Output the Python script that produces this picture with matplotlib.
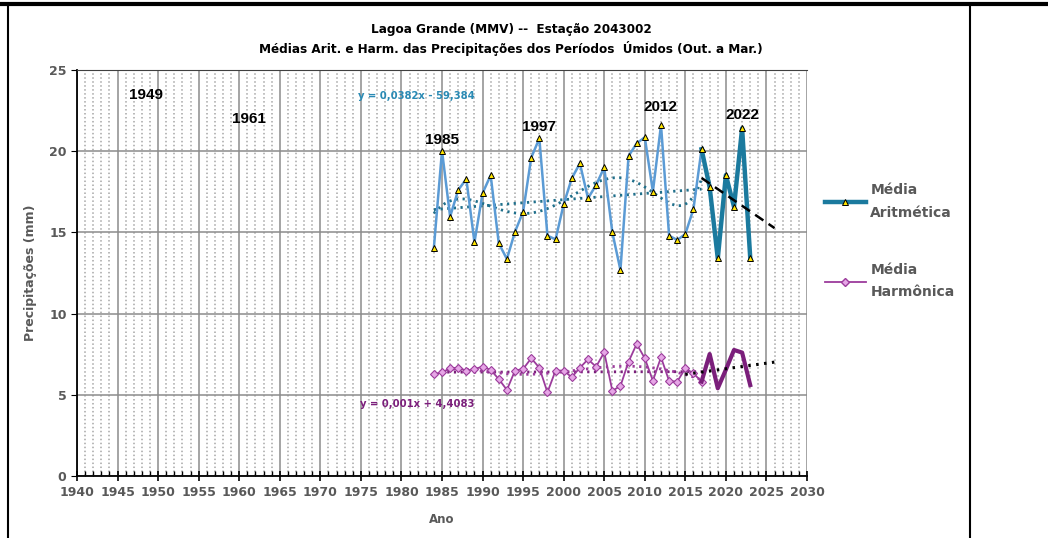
import matplotlib
matplotlib.use("Agg")
import matplotlib.pyplot as plt
import matplotlib.font_manager as fm
import numpy as np
from matplotlib.lines import Line2D
from matplotlib.ticker import MultipleLocator

# anos do período úmido
anos = list(range(1984, 2024))

# média aritmética (mm)
media_arit = [14.06, 20.03, 15.97, 17.61, 18.29, 14.39, 17.41, 18.52, 14.33, 13.36,
              15.04, 16.27, 19.60, 20.79, 14.80, 14.57, 16.73, 18.33, 19.25, 17.10,
              17.92, 19.00, 15.00, 12.68, 19.70, 20.48, 20.86, 17.51, 21.61, 14.80,
              14.53, 14.90, 16.44, 20.12, 17.78, 13.40, 18.53, 16.58, 21.41, 13.44]

# média harmônica (mm)
media_harm = [6.28, 6.38, 6.63, 6.67, 6.49, 6.59, 6.73, 6.53, 5.97, 5.30,
              6.49, 6.59, 7.25, 6.67, 5.15, 6.49, 6.49, 6.08, 6.67, 7.18,
              6.73, 7.62, 5.25, 5.54, 7.04, 8.13, 7.25, 5.87, 7.31, 5.85,
              5.81, 6.63, 6.32, 5.81, 7.51, 5.40, 6.55, 7.76, 7.60, 5.60]

# anos em destaque
destaques = [1949, 1961, 1985, 1997, 2012, 2022]

# equações das tendências lineares (1984-2017)
eq_arit = (0.0382, -59.384)
eq_harm = (0.001, 4.4083)

cinza = "#595959"
azul_claro = "#5B9BD5"
azul_esc = "#1B7A9E"
roxo_claro = "#9C3C9C"
roxo_esc = "#7B1F7B"

# fonte estreita para títulos e equações, se houver
nomes = {(f.name, f.stretch) for f in fm.fontManager.ttflist}
if any(n == "Liberation Sans Narrow" for n, s in nomes):
    fn = {"family": ["Liberation Sans Narrow", "DejaVu Sans"]}
    esc = 1.05
elif ("DejaVu Sans", "condensed") in nomes:
    fn = {"family": ["DejaVu Sans"], "fontstretch": "condensed"}
    esc = 0.85
else:
    fn = {"family": ["Liberation Sans", "DejaVu Sans"]}
    esc = 0.85

anos = np.array(anos)
ma = np.array(media_arit)
mh = np.array(media_harm)
ini = anos <= 2017   # trecho fino
fim = anos >= 2017   # trecho grosso (últimos anos)

fig = plt.figure(figsize=(10.48, 5.38), dpi=100)
ax = fig.add_axes([77 / 1048, 1 - 476 / 538, (807 - 77) / 1048, (476 - 70) / 538])

# grade
ax.set_xlim(1940, 2030)
ax.set_ylim(0, 25)
ax.xaxis.set_major_locator(MultipleLocator(5))
ax.xaxis.set_minor_locator(MultipleLocator(1))
ax.yaxis.set_major_locator(MultipleLocator(5))
ax.grid(which="major", axis="both", color="#8C8C8C", lw=1.1, zorder=0)
ax.grid(which="minor", axis="x", color="#A6A6A6", lw=1.1, ls=(0, (1.0, 1.6)), zorder=0)
ax.set_axisbelow(True)

# trechos das séries
ax.plot(anos[ini], ma[ini], color=azul_claro, lw=1.8, marker="^", ms=5,
        mfc="#FFE500", mec="black", mew=0.7, zorder=4)
ax.plot(anos[fim], ma[fim], color=azul_esc, lw=3.2, marker="^", ms=5,
        mfc="#FFE500", mec="black", mew=0.7, zorder=5)
ax.plot(anos[ini], mh[ini], color=roxo_claro, lw=1.3, marker="D", ms=4,
        mfc="#E6A6E6", mec=roxo_claro, mew=0.8, zorder=4)
ax.plot(anos[fim], mh[fim], color=roxo_esc, lw=3.0, zorder=5)

# tendências lineares do trecho fino
xt = np.linspace(1984, 2017, 50)
ax.plot(xt, eq_arit[0] * xt + eq_arit[1], color="#1F6F8B", lw=2.0, ls=(0, (0.8, 1.6)), zorder=3)
ax.plot(xt, eq_harm[0] * xt + eq_harm[1], color=roxo_esc, lw=2.0, ls=(0, (0.8, 1.6)), zorder=3)

# tendências polinomiais do trecho fino
xc = anos[ini] - 2000
xp = np.linspace(xc.min(), xc.max(), 200)
pa = np.polyfit(xc, ma[ini], 6)
ph = np.polyfit(xc, mh[ini], 6)
ax.plot(xp + 2000, np.polyval(pa, xp), color="#1F6F8B", lw=2.0, ls=(0, (0.8, 1.6)), zorder=3)
ax.plot(xp + 2000, np.polyval(ph, xp), color=roxo_claro, lw=2.0, ls=(0, (0.8, 1.6)), zorder=3)

# tendência dos últimos anos com previsão de 3 anos
xf = anos[fim]
ca = np.polyfit(xf, ma[fim], 1)
ch = np.polyfit(xf, mh[fim], 1)
xa = np.array([2017, 2026])
xh = np.array([2015, 2026])
ax.plot(xa, np.polyval(ca, xa), color="black", lw=1.8, ls=(0, (4, 2.5)), zorder=6)
ax.plot(xh, np.polyval(ch, xh), color="black", lw=2.2, ls=(0, (0.8, 1.8)), zorder=6)

# anos destacados
pos_dest = [(1948.5, 23.45), (1961.2, 22.0), (1985, 20.7), (1997, 21.5), (2012, 22.7), (2022, 22.2)]
for a, (px, py) in zip(destaques, pos_dest):
    ax.text(px, py, str(a), ha="center", va="center", fontsize=11, fontweight="bold",
            family=["Liberation Sans", "DejaVu Sans"], color="black", zorder=7)

ax.text(1974.6, 23.4, "y = 0,0382x - 59,384", color="#2A8AB4", fontsize=9.4 * esc,
        fontweight="bold", va="center", ha="left", zorder=7, **fn)
ax.text(1974.9, 4.43, "y = 0,001x + 4,4083", color=roxo_esc, fontsize=9.4 * esc,
        fontweight="bold", va="center", ha="left", zorder=7, **fn)

# eixos
for s in ["left", "bottom"]:
    ax.spines[s].set_color("black")
    ax.spines[s].set_linewidth(1.3)
ax.spines["top"].set_color("#404040")
ax.spines["right"].set_visible(False)
ax.tick_params(axis="x", which="major", direction="inout", length=7, width=1.2,
               labelsize=9, labelcolor=cinza, pad=4)
ax.tick_params(axis="x", which="minor", direction="in", length=3.5, width=1.0)
ax.tick_params(axis="y", which="major", direction="out", length=4, labelsize=9,
               labelcolor=cinza)
for lab in ax.get_xticklabels() + ax.get_yticklabels():
    lab.set_fontweight("bold")
ax.set_xlabel("Ano", fontsize=8.5, fontweight="bold", color=cinza, labelpad=10)
ax.set_ylabel("Precipitações (mm)", fontsize=9, fontweight="bold", color=cinza, labelpad=9)

# títulos
fig.text(0.4876, 1 - 29 / 538, "Lagoa Grande (MMV) --  Estação 2043002", ha="center", va="center",
         fontsize=11.3 * esc, fontweight="bold", **fn)
fig.text(0.4876, 1 - 49 / 538, "Médias Arit. e Harm. das Precipitações dos Períodos  Úmidos (Out. a Mar.)",
         ha="center", va="center", fontsize=11.3 * esc, fontweight="bold", **fn)

# legenda
h1 = Line2D([], [], color=azul_esc, lw=3.2, marker="^", ms=5, mfc="#FFE500", mec="black", mew=0.7)
h2 = Line2D([], [], color=roxo_claro, lw=1.3, marker="D", ms=4, mfc="#E6A6E6", mec=roxo_claro)
leg = fig.legend([h1, h2], ["Média\nAritmética", "Média\nHarmônica"], loc="upper left",
                 bbox_to_anchor=(812 / 1048, 1 - 171 / 538), frameon=False, labelspacing=3.1,
                 handlelength=3.0, handletextpad=0.3,
                 prop={"size": 10, "weight": "bold"})
for t in leg.get_texts():
    t.set_color(cinza)
    t.set_linespacing(1.75)

# molduras externas
fig.add_artist(Line2D([0, 1], [1 - 4 / 538, 1 - 4 / 538], transform=fig.transFigure, color="black", lw=3))
fig.add_artist(Line2D([8 / 1048, 8 / 1048], [0, 1 - 4 / 538], transform=fig.transFigure, color="black", lw=1.5))
fig.add_artist(Line2D([970 / 1048, 970 / 1048], [0, 1 - 4 / 538], transform=fig.transFigure, color="black", lw=1.5))

fig.savefig("out.png", dpi=100)
